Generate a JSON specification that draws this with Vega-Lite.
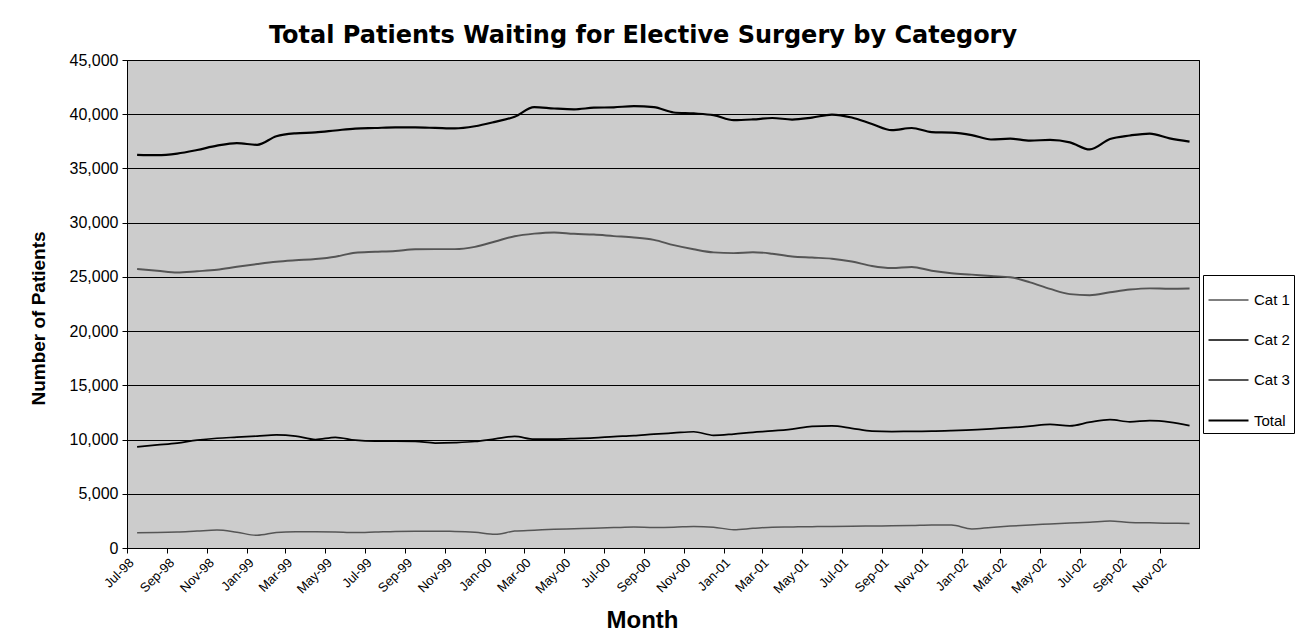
{
  "$schema": "https://vega.github.io/schema/vega-lite/v6.json",
  "autosize": {"type": "none"},
  "width": 1072,
  "height": 488,
  "padding": {"left": 127, "top": 60, "right": 102, "bottom": 90},
  "background": "white",
  "title": {
    "text": "Total Patients Waiting for Elective Surgery by Category",
    "font": "DejaVu Sans",
    "fontSize": 24,
    "fontWeight": "bold",
    "color": "black",
    "anchor": "middle",
    "frame": "group",
    "dx": -20,
    "offset": 4
  },
  "data": {
    "values": [
      {"month": "1998-07-01", "series": "Cat 1", "patients": 1410},
      {"month": "1998-08-01", "series": "Cat 1", "patients": 1430},
      {"month": "1998-09-01", "series": "Cat 1", "patients": 1480},
      {"month": "1998-10-01", "series": "Cat 1", "patients": 1570},
      {"month": "1998-11-01", "series": "Cat 1", "patients": 1650},
      {"month": "1998-12-01", "series": "Cat 1", "patients": 1450},
      {"month": "1999-01-01", "series": "Cat 1", "patients": 1170},
      {"month": "1999-02-01", "series": "Cat 1", "patients": 1430},
      {"month": "1999-03-01", "series": "Cat 1", "patients": 1510},
      {"month": "1999-04-01", "series": "Cat 1", "patients": 1500},
      {"month": "1999-05-01", "series": "Cat 1", "patients": 1470},
      {"month": "1999-06-01", "series": "Cat 1", "patients": 1420},
      {"month": "1999-07-01", "series": "Cat 1", "patients": 1470},
      {"month": "1999-08-01", "series": "Cat 1", "patients": 1530},
      {"month": "1999-09-01", "series": "Cat 1", "patients": 1550},
      {"month": "1999-10-01", "series": "Cat 1", "patients": 1540},
      {"month": "1999-11-01", "series": "Cat 1", "patients": 1530},
      {"month": "1999-12-01", "series": "Cat 1", "patients": 1460},
      {"month": "2000-01-01", "series": "Cat 1", "patients": 1260},
      {"month": "2000-02-01", "series": "Cat 1", "patients": 1560},
      {"month": "2000-03-01", "series": "Cat 1", "patients": 1640},
      {"month": "2000-04-01", "series": "Cat 1", "patients": 1720},
      {"month": "2000-05-01", "series": "Cat 1", "patients": 1780},
      {"month": "2000-06-01", "series": "Cat 1", "patients": 1830},
      {"month": "2000-07-01", "series": "Cat 1", "patients": 1880},
      {"month": "2000-08-01", "series": "Cat 1", "patients": 1930},
      {"month": "2000-09-01", "series": "Cat 1", "patients": 1890},
      {"month": "2000-10-01", "series": "Cat 1", "patients": 1910},
      {"month": "2000-11-01", "series": "Cat 1", "patients": 1990},
      {"month": "2000-12-01", "series": "Cat 1", "patients": 1920},
      {"month": "2001-01-01", "series": "Cat 1", "patients": 1690},
      {"month": "2001-02-01", "series": "Cat 1", "patients": 1810},
      {"month": "2001-03-01", "series": "Cat 1", "patients": 1920},
      {"month": "2001-04-01", "series": "Cat 1", "patients": 1940},
      {"month": "2001-05-01", "series": "Cat 1", "patients": 1970},
      {"month": "2001-06-01", "series": "Cat 1", "patients": 1980},
      {"month": "2001-07-01", "series": "Cat 1", "patients": 2010},
      {"month": "2001-08-01", "series": "Cat 1", "patients": 2030},
      {"month": "2001-09-01", "series": "Cat 1", "patients": 2050},
      {"month": "2001-10-01", "series": "Cat 1", "patients": 2070},
      {"month": "2001-11-01", "series": "Cat 1", "patients": 2120},
      {"month": "2001-12-01", "series": "Cat 1", "patients": 2110},
      {"month": "2002-01-01", "series": "Cat 1", "patients": 1760},
      {"month": "2002-02-01", "series": "Cat 1", "patients": 1900},
      {"month": "2002-03-01", "series": "Cat 1", "patients": 2020},
      {"month": "2002-04-01", "series": "Cat 1", "patients": 2130},
      {"month": "2002-05-01", "series": "Cat 1", "patients": 2210},
      {"month": "2002-06-01", "series": "Cat 1", "patients": 2300},
      {"month": "2002-07-01", "series": "Cat 1", "patients": 2380},
      {"month": "2002-08-01", "series": "Cat 1", "patients": 2490},
      {"month": "2002-09-01", "series": "Cat 1", "patients": 2360},
      {"month": "2002-10-01", "series": "Cat 1", "patients": 2320},
      {"month": "2002-11-01", "series": "Cat 1", "patients": 2280},
      {"month": "2002-12-01", "series": "Cat 1", "patients": 2270},

      {"month": "1998-07-01", "series": "Cat 2", "patients": 9320},
      {"month": "1998-08-01", "series": "Cat 2", "patients": 9500},
      {"month": "1998-09-01", "series": "Cat 2", "patients": 9680},
      {"month": "1998-10-01", "series": "Cat 2", "patients": 9950},
      {"month": "1998-11-01", "series": "Cat 2", "patients": 10120},
      {"month": "1998-12-01", "series": "Cat 2", "patients": 10220},
      {"month": "1999-01-01", "series": "Cat 2", "patients": 10320},
      {"month": "1999-02-01", "series": "Cat 2", "patients": 10430},
      {"month": "1999-03-01", "series": "Cat 2", "patients": 10320},
      {"month": "1999-04-01", "series": "Cat 2", "patients": 10000},
      {"month": "1999-05-01", "series": "Cat 2", "patients": 10210},
      {"month": "1999-06-01", "series": "Cat 2", "patients": 9940},
      {"month": "1999-07-01", "series": "Cat 2", "patients": 9850},
      {"month": "1999-08-01", "series": "Cat 2", "patients": 9850},
      {"month": "1999-09-01", "series": "Cat 2", "patients": 9830},
      {"month": "1999-10-01", "series": "Cat 2", "patients": 9680},
      {"month": "1999-11-01", "series": "Cat 2", "patients": 9720},
      {"month": "1999-12-01", "series": "Cat 2", "patients": 9820},
      {"month": "2000-01-01", "series": "Cat 2", "patients": 10060},
      {"month": "2000-02-01", "series": "Cat 2", "patients": 10290},
      {"month": "2000-03-01", "series": "Cat 2", "patients": 10030},
      {"month": "2000-04-01", "series": "Cat 2", "patients": 10040},
      {"month": "2000-05-01", "series": "Cat 2", "patients": 10090},
      {"month": "2000-06-01", "series": "Cat 2", "patients": 10160},
      {"month": "2000-07-01", "series": "Cat 2", "patients": 10270},
      {"month": "2000-08-01", "series": "Cat 2", "patients": 10360},
      {"month": "2000-09-01", "series": "Cat 2", "patients": 10500},
      {"month": "2000-10-01", "series": "Cat 2", "patients": 10610},
      {"month": "2000-11-01", "series": "Cat 2", "patients": 10720},
      {"month": "2000-12-01", "series": "Cat 2", "patients": 10390},
      {"month": "2001-01-01", "series": "Cat 2", "patients": 10510},
      {"month": "2001-02-01", "series": "Cat 2", "patients": 10670},
      {"month": "2001-03-01", "series": "Cat 2", "patients": 10790},
      {"month": "2001-04-01", "series": "Cat 2", "patients": 10960},
      {"month": "2001-05-01", "series": "Cat 2", "patients": 11210},
      {"month": "2001-06-01", "series": "Cat 2", "patients": 11260},
      {"month": "2001-07-01", "series": "Cat 2", "patients": 11040},
      {"month": "2001-08-01", "series": "Cat 2", "patients": 10780},
      {"month": "2001-09-01", "series": "Cat 2", "patients": 10740},
      {"month": "2001-10-01", "series": "Cat 2", "patients": 10760},
      {"month": "2001-11-01", "series": "Cat 2", "patients": 10770},
      {"month": "2001-12-01", "series": "Cat 2", "patients": 10820},
      {"month": "2002-01-01", "series": "Cat 2", "patients": 10900},
      {"month": "2002-02-01", "series": "Cat 2", "patients": 10980},
      {"month": "2002-03-01", "series": "Cat 2", "patients": 11090},
      {"month": "2002-04-01", "series": "Cat 2", "patients": 11240},
      {"month": "2002-05-01", "series": "Cat 2", "patients": 11410},
      {"month": "2002-06-01", "series": "Cat 2", "patients": 11270},
      {"month": "2002-07-01", "series": "Cat 2", "patients": 11600},
      {"month": "2002-08-01", "series": "Cat 2", "patients": 11830},
      {"month": "2002-09-01", "series": "Cat 2", "patients": 11640},
      {"month": "2002-10-01", "series": "Cat 2", "patients": 11740},
      {"month": "2002-11-01", "series": "Cat 2", "patients": 11610},
      {"month": "2002-12-01", "series": "Cat 2", "patients": 11290},

      {"month": "1998-07-01", "series": "Cat 3", "patients": 25730},
      {"month": "1998-08-01", "series": "Cat 3", "patients": 25570},
      {"month": "1998-09-01", "series": "Cat 3", "patients": 25400},
      {"month": "1998-10-01", "series": "Cat 3", "patients": 25520},
      {"month": "1998-11-01", "series": "Cat 3", "patients": 25660},
      {"month": "1998-12-01", "series": "Cat 3", "patients": 25930},
      {"month": "1999-01-01", "series": "Cat 3", "patients": 26180},
      {"month": "1999-02-01", "series": "Cat 3", "patients": 26390},
      {"month": "1999-03-01", "series": "Cat 3", "patients": 26530},
      {"month": "1999-04-01", "series": "Cat 3", "patients": 26650},
      {"month": "1999-05-01", "series": "Cat 3", "patients": 26860},
      {"month": "1999-06-01", "series": "Cat 3", "patients": 27230},
      {"month": "1999-07-01", "series": "Cat 3", "patients": 27310},
      {"month": "1999-08-01", "series": "Cat 3", "patients": 27390},
      {"month": "1999-09-01", "series": "Cat 3", "patients": 27540},
      {"month": "1999-10-01", "series": "Cat 3", "patients": 27560},
      {"month": "1999-11-01", "series": "Cat 3", "patients": 27560},
      {"month": "1999-12-01", "series": "Cat 3", "patients": 27770},
      {"month": "2000-01-01", "series": "Cat 3", "patients": 28260},
      {"month": "2000-02-01", "series": "Cat 3", "patients": 28750},
      {"month": "2000-03-01", "series": "Cat 3", "patients": 28990},
      {"month": "2000-04-01", "series": "Cat 3", "patients": 29100},
      {"month": "2000-05-01", "series": "Cat 3", "patients": 28970},
      {"month": "2000-06-01", "series": "Cat 3", "patients": 28900},
      {"month": "2000-07-01", "series": "Cat 3", "patients": 28760},
      {"month": "2000-08-01", "series": "Cat 3", "patients": 28630},
      {"month": "2000-09-01", "series": "Cat 3", "patients": 28410},
      {"month": "2000-10-01", "series": "Cat 3", "patients": 27930},
      {"month": "2000-11-01", "series": "Cat 3", "patients": 27550},
      {"month": "2000-12-01", "series": "Cat 3", "patients": 27260},
      {"month": "2001-01-01", "series": "Cat 3", "patients": 27190},
      {"month": "2001-02-01", "series": "Cat 3", "patients": 27280},
      {"month": "2001-03-01", "series": "Cat 3", "patients": 27140},
      {"month": "2001-04-01", "series": "Cat 3", "patients": 26880},
      {"month": "2001-05-01", "series": "Cat 3", "patients": 26780},
      {"month": "2001-06-01", "series": "Cat 3", "patients": 26680},
      {"month": "2001-07-01", "series": "Cat 3", "patients": 26420},
      {"month": "2001-08-01", "series": "Cat 3", "patients": 26000},
      {"month": "2001-09-01", "series": "Cat 3", "patients": 25810},
      {"month": "2001-10-01", "series": "Cat 3", "patients": 25920},
      {"month": "2001-11-01", "series": "Cat 3", "patients": 25570},
      {"month": "2001-12-01", "series": "Cat 3", "patients": 25340},
      {"month": "2002-01-01", "series": "Cat 3", "patients": 25210},
      {"month": "2002-02-01", "series": "Cat 3", "patients": 25080},
      {"month": "2002-03-01", "series": "Cat 3", "patients": 24970},
      {"month": "2002-04-01", "series": "Cat 3", "patients": 24490},
      {"month": "2002-05-01", "series": "Cat 3", "patients": 23890},
      {"month": "2002-06-01", "series": "Cat 3", "patients": 23410},
      {"month": "2002-07-01", "series": "Cat 3", "patients": 23310},
      {"month": "2002-08-01", "series": "Cat 3", "patients": 23580},
      {"month": "2002-09-01", "series": "Cat 3", "patients": 23830},
      {"month": "2002-10-01", "series": "Cat 3", "patients": 23940},
      {"month": "2002-11-01", "series": "Cat 3", "patients": 23900},
      {"month": "2002-12-01", "series": "Cat 3", "patients": 23920},

      {"month": "1998-07-01", "series": "Total", "patients": 36260},
      {"month": "1998-08-01", "series": "Total", "patients": 36220},
      {"month": "1998-09-01", "series": "Total", "patients": 36370},
      {"month": "1998-10-01", "series": "Total", "patients": 36700},
      {"month": "1998-11-01", "series": "Total", "patients": 37100},
      {"month": "1998-12-01", "series": "Total", "patients": 37330},
      {"month": "1999-01-01", "series": "Total", "patients": 37180},
      {"month": "1999-02-01", "series": "Total", "patients": 37970},
      {"month": "1999-03-01", "series": "Total", "patients": 38240},
      {"month": "1999-04-01", "series": "Total", "patients": 38320},
      {"month": "1999-05-01", "series": "Total", "patients": 38500},
      {"month": "1999-06-01", "series": "Total", "patients": 38680},
      {"month": "1999-07-01", "series": "Total", "patients": 38730},
      {"month": "1999-08-01", "series": "Total", "patients": 38780},
      {"month": "1999-09-01", "series": "Total", "patients": 38780},
      {"month": "1999-10-01", "series": "Total", "patients": 38740},
      {"month": "1999-11-01", "series": "Total", "patients": 38690},
      {"month": "1999-12-01", "series": "Total", "patients": 38890},
      {"month": "2000-01-01", "series": "Total", "patients": 39300},
      {"month": "2000-02-01", "series": "Total", "patients": 39770},
      {"month": "2000-03-01", "series": "Total", "patients": 40660},
      {"month": "2000-04-01", "series": "Total", "patients": 40530},
      {"month": "2000-05-01", "series": "Total", "patients": 40450},
      {"month": "2000-06-01", "series": "Total", "patients": 40600},
      {"month": "2000-07-01", "series": "Total", "patients": 40640},
      {"month": "2000-08-01", "series": "Total", "patients": 40750},
      {"month": "2000-09-01", "series": "Total", "patients": 40650},
      {"month": "2000-10-01", "series": "Total", "patients": 40160},
      {"month": "2000-11-01", "series": "Total", "patients": 40070},
      {"month": "2000-12-01", "series": "Total", "patients": 39910},
      {"month": "2001-01-01", "series": "Total", "patients": 39450},
      {"month": "2001-02-01", "series": "Total", "patients": 39520},
      {"month": "2001-03-01", "series": "Total", "patients": 39650},
      {"month": "2001-04-01", "series": "Total", "patients": 39510},
      {"month": "2001-05-01", "series": "Total", "patients": 39690},
      {"month": "2001-06-01", "series": "Total", "patients": 39970},
      {"month": "2001-07-01", "series": "Total", "patients": 39700},
      {"month": "2001-08-01", "series": "Total", "patients": 39100},
      {"month": "2001-09-01", "series": "Total", "patients": 38530},
      {"month": "2001-10-01", "series": "Total", "patients": 38730},
      {"month": "2001-11-01", "series": "Total", "patients": 38350},
      {"month": "2001-12-01", "series": "Total", "patients": 38310},
      {"month": "2002-01-01", "series": "Total", "patients": 38080},
      {"month": "2002-02-01", "series": "Total", "patients": 37670},
      {"month": "2002-03-01", "series": "Total", "patients": 37750},
      {"month": "2002-04-01", "series": "Total", "patients": 37560},
      {"month": "2002-05-01", "series": "Total", "patients": 37640},
      {"month": "2002-06-01", "series": "Total", "patients": 37410},
      {"month": "2002-07-01", "series": "Total", "patients": 36750},
      {"month": "2002-08-01", "series": "Total", "patients": 37710},
      {"month": "2002-09-01", "series": "Total", "patients": 38040},
      {"month": "2002-10-01", "series": "Total", "patients": 38220},
      {"month": "2002-11-01", "series": "Total", "patients": 37780},
      {"month": "2002-12-01", "series": "Total", "patients": 37480}
    ]
  },
  "mark": {"type": "line", "interpolate": "monotone"},
  "encoding": {
    "x": {
      "field": "month",
      "type": "temporal",
      "timeUnit": "utcyearmonth",
      "bandPosition": 0.5,
      "scale": {
        "type": "utc",
        "domain": [
          {"year": 1998, "month": 7, "date": 1, "utc": true},
          {"year": 2002, "month": 12, "date": 31, "utc": true}
        ]
      },
      "axis": {
        "title": "Month",
        "format": "%b-%y",
        "tickCount": {"interval": "month", "step": 2},
        "labelAngle": -45,
        "labelFont": "Liberation Sans",
        "labelFontSize": 13,
        "labelColor": "black",
        "labelPadding": 3,
        "labelOverlap": false,
        "tickColor": "black",
        "tickSize": 5,
        "domainColor": "black",
        "grid": false,
        "titleFont": "Liberation Sans",
        "titleFontSize": 24,
        "titleFontWeight": "bold",
        "titleColor": "black",
        "titleX": 515,
        "titleY": 79,
        "titleBaseline": "alphabetic",
        "titleAlign": "center"
      }
    },
    "y": {
      "field": "patients",
      "type": "quantitative",
      "scale": {"domain": [0, 45000], "nice": false},
      "axis": {
        "title": "Number of Patients",
        "values": [0, 5000, 10000, 15000, 20000, 25000, 30000, 35000, 40000, 45000],
        "format": ",.0f",
        "labelFont": "Liberation Sans",
        "labelFontSize": 16,
        "labelColor": "black",
        "labelPadding": 4,
        "tickColor": "black",
        "tickSize": 5,
        "domainColor": "black",
        "grid": true,
        "gridColor": "black",
        "gridOpacity": 1,
        "gridWidth": 1,
        "titleFont": "Liberation Sans",
        "titleFontSize": 19,
        "titleFontWeight": "bold",
        "titleColor": "black",
        "titleX": -83,
        "titleY": 258,
        "titleAngle": -90,
        "titleBaseline": "alphabetic",
        "titleAlign": "center"
      }
    },
    "color": {
      "field": "series",
      "type": "nominal",
      "scale": {
        "domain": ["Cat 1", "Cat 2", "Cat 3", "Total"],
        "range": ["#555555", "#000000", "#555555", "#000000"]
      },
      "legend": {
        "title": null,
        "orient": "none",
        "legendX": 1076,
        "legendY": 215,
        "symbolType": "stroke",
        "symbolSize": 1600,
        "labelFont": "Liberation Sans",
        "labelFontSize": 15,
        "labelColor": "black",
        "labelOffset": 4,
        "rowPadding": 11,
        "padding": 4,
        "strokeColor": "black",
        "fillColor": "white"
      }
    },
    "strokeWidth": {
      "field": "series",
      "type": "nominal",
      "scale": {
        "domain": ["Cat 1", "Cat 2", "Cat 3", "Total"],
        "range": [1.5, 2.2, 1.5, 2.8]
      },
      "legend": {
        "title": null,
        "orient": "none",
        "legendX": 1076,
        "legendY": 215,
        "symbolType": "stroke",
        "symbolSize": 1600,
        "labelFont": "Liberation Sans",
        "labelFontSize": 15,
        "labelColor": "black",
        "labelOffset": 4,
        "rowPadding": 11,
        "padding": 4,
        "strokeColor": "black",
        "fillColor": "white"
      }
    }
  },
  "config": {
    "font": "Liberation Sans",
    "view": {"stroke": "black", "strokeWidth": 1, "fill": "#cccccc"}
  }
}
